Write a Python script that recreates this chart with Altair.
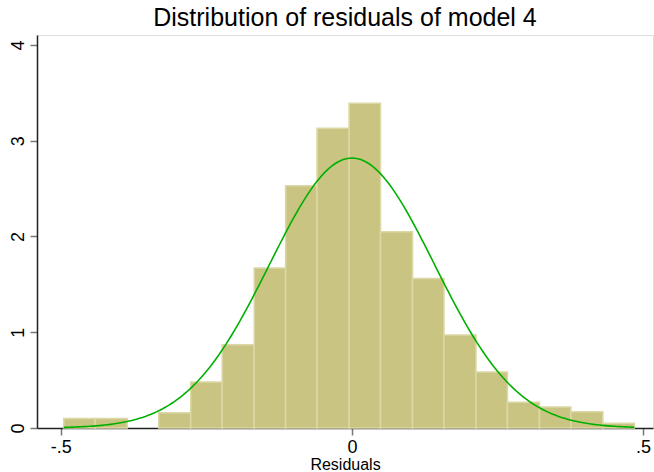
import altair as alt
import pandas as pd

# Histogram bins (residual value edges) and densities
bin_start = [-0.495, -0.441, -0.386, -0.332, -0.277, -0.223, -0.168, -0.114, -0.060,
             -0.005, 0.049, 0.104, 0.158, 0.213, 0.267, 0.322, 0.376, 0.431]
bin_end = [-0.441, -0.386, -0.332, -0.277, -0.223, -0.168, -0.114, -0.060, -0.005,
           0.049, 0.104, 0.158, 0.213, 0.267, 0.322, 0.376, 0.431, 0.485]
density = [0.10, 0.10, 0.0, 0.16, 0.48, 0.87, 1.67, 2.53, 3.13,
           3.39, 2.05, 1.56, 0.97, 0.585, 0.27, 0.22, 0.17, 0.05]

res_min, res_max = -0.495, 0.485
mu = 0.0
sigma = 0.1415

x_ticks = [-0.5, 0, 0.5]
y_ticks = [0, 1, 2, 3, 4]

df = pd.DataFrame({"start": bin_start, "end": bin_end, "density": density})

FONT = "Liberation Sans"
xscale = alt.Scale(domain=[-0.541, 0.517], nice=False, zero=False)
yscale = alt.Scale(domain=[0, 4.104], nice=False)

bars = alt.Chart(df).transform_filter("datum.density > 0").mark_rect(
    color="#CAC483", stroke="#DCD8A6", strokeWidth=1.5
).encode(
    x=alt.X("start:Q", scale=xscale,
            axis=alt.Axis(values=x_ticks, title="Residuals", grid=False,
                          labelExpr="datum.value == 0 ? '0' : (datum.value < 0 ? '-' : '') + replace(format(abs(datum.value), '.1f'), '0.', '.')",
                          domainColor="#222", domainWidth=1.5,
                          tickColor="#777", tickWidth=1.5, tickSize=7,
                          labelFont=FONT, labelFontSize=18, labelColor="black",
                          labelPadding=3, titleFont=FONT, titleFontSize=16,
                          titleFontWeight="normal", titleColor="black", titlePadding=0)),
    x2="end:Q",
    y=alt.Y("density:Q", scale=yscale,
            axis=alt.Axis(values=y_ticks, title=None, grid=False, format="d",
                          labelAngle=270, labelAlign="center", labelBaseline="bottom",
                          domainColor="#222", domainWidth=1.5,
                          tickColor="#777", tickWidth=1.5, tickSize=7,
                          labelFont=FONT, labelFontSize=18, labelColor="black",
                          labelPadding=3)),
    y2=alt.datum(0),
)

curve = alt.Chart(alt.sequence(res_min, res_max + 0.0001, 0.005, as_="x")).transform_calculate(
    d=f"exp(-0.5*pow((datum.x-({mu}))/{sigma},2))/({sigma}*sqrt(2*PI))"
).mark_line(color="#00B000", strokeWidth=1.6).encode(
    x=alt.X("x:Q", scale=xscale),
    y=alt.Y("d:Q", scale=yscale),
)

chart = alt.layer(bars, curve).properties(
    width=616, height=393,
    title=alt.TitleParams("Distribution of residuals of model 4", font=FONT,
                          fontSize=25, fontWeight="normal", color="black",
                          anchor="middle", offset=4),
    autosize=alt.AutoSizeParams(type="none"),
    padding={"left": 37, "top": 35, "right": 1, "bottom": 44},
).configure_view(stroke="#444", strokeWidth=1.5).configure(background="white")

chart.save("out.html", embed_options={"renderer": "svg", "actions": False})
